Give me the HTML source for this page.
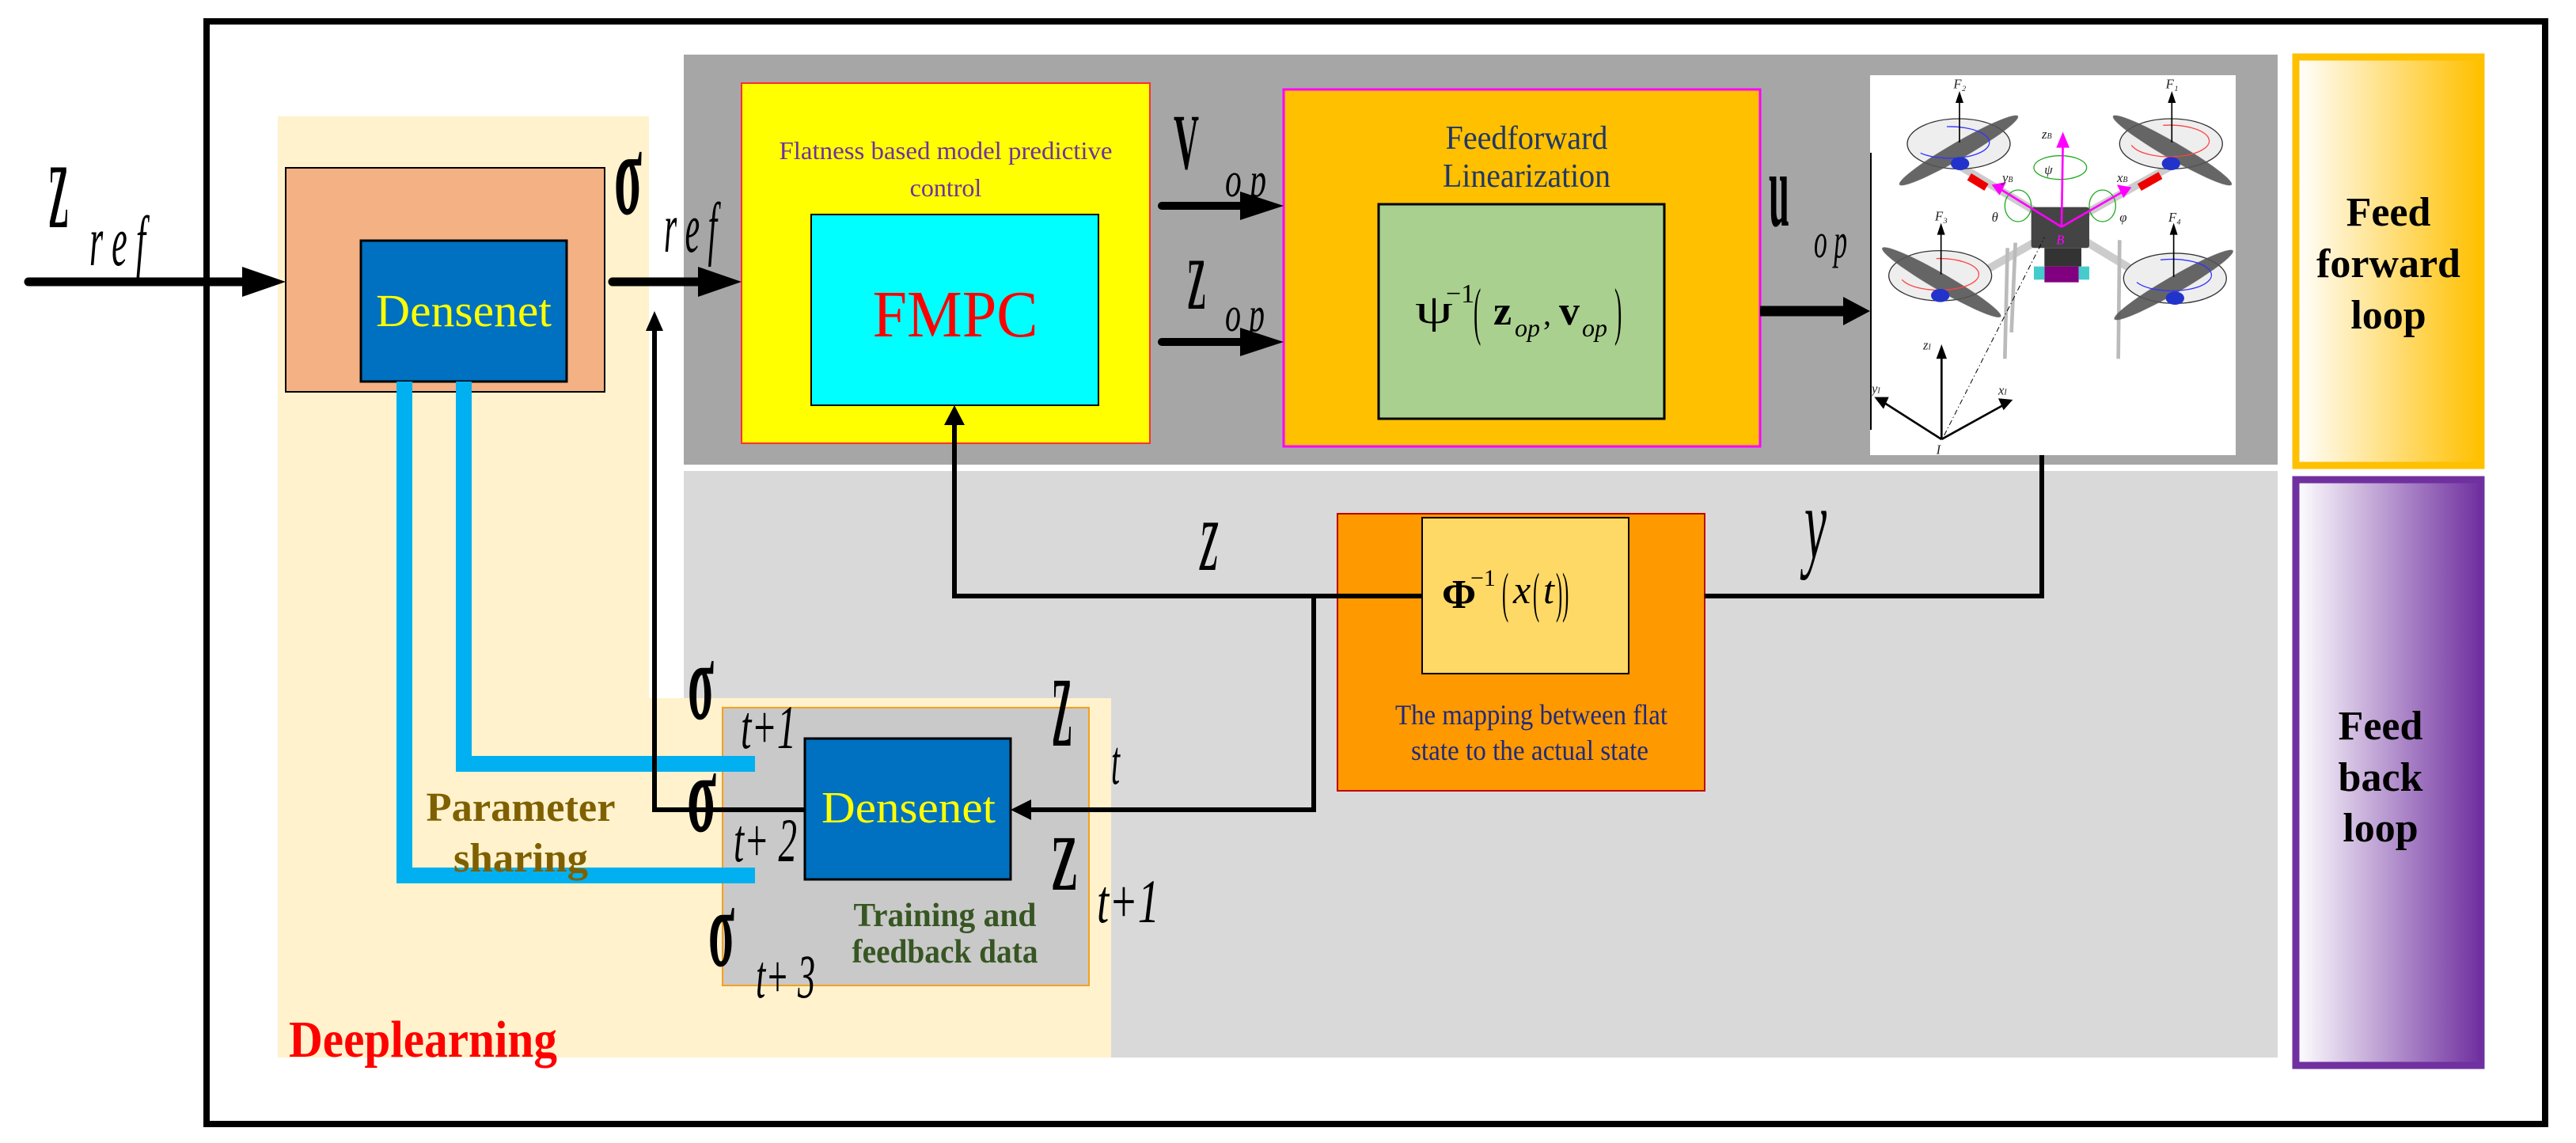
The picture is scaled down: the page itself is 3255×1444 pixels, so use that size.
<!DOCTYPE html>
<html><head><meta charset="utf-8"><style>
html,body{margin:0;padding:0;background:#fff;}
svg{display:block;}
text{font-family:"Liberation Serif",serif;}
</style></head><body>
<svg width="3255" height="1444" viewBox="0 0 3255 1444" xmlns="http://www.w3.org/2000/svg">
<defs>
<linearGradient id="gff" x1="0" x2="1" y1="0" y2="0"><stop offset="0" stop-color="#fff"/><stop offset="1" stop-color="#ffc000"/></linearGradient>
<linearGradient id="gfb" x1="0" x2="1" y1="0" y2="0"><stop offset="0" stop-color="#fff"/><stop offset="1" stop-color="#7030a0"/></linearGradient>
</defs>
<rect width="3255" height="1444" fill="#fff"/>
<!-- outer border -->
<rect x="261" y="27" width="2955" height="1393" fill="none" stroke="#000" stroke-width="8"/>
<!-- gray regions -->
<rect x="864" y="69" width="2014" height="518" fill="#a6a6a6"/>
<rect x="864" y="595" width="2014" height="741" fill="#d9d9d9"/>
<!-- beige deep learning region -->
<rect x="351" y="147" width="469" height="1189" fill="#fff2cc"/>
<rect x="820" y="882" width="584" height="454" fill="#fff2cc"/>
<!-- salmon + densenet top -->
<rect x="361" y="212" width="403" height="283" fill="#f4b183" stroke="#000" stroke-width="2"/>
<rect x="456" y="304" width="260" height="178" fill="#0070c0" stroke="#000" stroke-width="3"/>
<text x="586" y="412" font-size="58" fill="#ffff00" text-anchor="middle" textLength="222" lengthAdjust="spacingAndGlyphs">Densenet</text>
<!-- FMPC -->
<rect x="937" y="105" width="516" height="455" fill="#ffff00" stroke="#ff3030" stroke-width="2"/>
<text x="1195" y="201" font-size="32" fill="#7030a0" text-anchor="middle" textLength="421" lengthAdjust="spacingAndGlyphs">Flatness based model predictive</text>
<text x="1195" y="248" font-size="32" fill="#7030a0" text-anchor="middle">control</text>
<rect x="1025" y="271" width="363" height="241" fill="#00ffff" stroke="#000" stroke-width="2"/>
<text x="1207" y="425" font-size="84" fill="#ff0000" text-anchor="middle" textLength="209" lengthAdjust="spacingAndGlyphs">FMPC</text>
<!-- Feedforward linearization -->
<rect x="1622" y="113" width="602" height="451" fill="#ffc000" stroke="#ff00ff" stroke-width="3"/>
<text x="1929" y="188" font-size="42" fill="#203864" text-anchor="middle" textLength="205" lengthAdjust="spacingAndGlyphs">Feedforward</text>
<text x="1929" y="236" font-size="42" fill="#203864" text-anchor="middle" textLength="212" lengthAdjust="spacingAndGlyphs">Linearization</text>
<rect x="1742" y="258" width="361" height="271" fill="#a9d08e" stroke="#000" stroke-width="3"/>
<text x="1788" y="408" font-size="52" fill="#000" textLength="48" lengthAdjust="spacingAndGlyphs">ψ</text>
<text x="1827" y="382" font-size="34" fill="#000">−1</text>
<text x="1862" y="420" font-size="80" fill="#000" transform="translate(1862,0) scale(0.35,1) translate(-1862,0)">(</text>
<text x="1887" y="410" font-size="52" font-weight="bold" fill="#000">z</text>
<text x="1914" y="425" font-size="32" font-style="italic" fill="#000">op</text>
<text x="1950" y="410" font-size="40" fill="#000">,</text>
<text x="1970" y="410" font-size="52" font-weight="bold" fill="#000">v</text>
<text x="1999" y="425" font-size="32" font-style="italic" fill="#000">op</text>
<text x="2040" y="420" font-size="80" fill="#000" transform="translate(2040,0) scale(0.35,1) translate(-2040,0)">)</text>
<!-- drone image -->
<rect x="2363" y="95" width="462" height="480" fill="#fff"/>
<line x1="2364" y1="193" x2="2364" y2="543" stroke="#000" stroke-width="2"/>
<g transform="translate(2350,80) scale(0.3333)">
  <g stroke="#ccc" stroke-width="30" stroke-linecap="round">
    <line x1="765" y1="620" x2="380" y2="390"/><line x1="765" y1="620" x2="1180" y2="390"/>
    <line x1="765" y1="620" x2="310" y2="880"/><line x1="765" y1="620" x2="1195" y2="880"/>
  </g>
  <line x1="415" y1="430" x2="480" y2="470" stroke="#e00" stroke-width="30"/>
  <line x1="1060" y1="470" x2="1140" y2="425" stroke="#e00" stroke-width="30"/>
  <g stroke="#bbb" stroke-width="14"><line x1="560" y1="700" x2="550" y2="1120"/><line x1="985" y1="670" x2="980" y2="1120"/><line x1="590" y1="680" x2="575" y2="1020"/></g>
  <g fill="#eee" stroke="#333" stroke-width="4">
    <ellipse cx="375" cy="305" rx="195" ry="95"/><ellipse cx="1180" cy="305" rx="195" ry="95"/>
    <ellipse cx="305" cy="805" rx="195" ry="95"/><ellipse cx="1195" cy="815" rx="195" ry="95"/>
  </g>
  <g fill="#555" opacity="0.9">
    <ellipse cx="375" cy="330" rx="260" ry="32" transform="rotate(-30 375 330)"/>
    <ellipse cx="1185" cy="330" rx="260" ry="32" transform="rotate(30 1185 330)"/>
    <ellipse cx="310" cy="830" rx="260" ry="32" transform="rotate(30 310 830)"/>
    <ellipse cx="1190" cy="840" rx="260" ry="32" transform="rotate(-30 1190 840)"/>
  </g>
  <g fill="none" stroke-width="4">
    <path d="M230 340 A150 60 0 1 0 330 240" stroke="#33f"/>
    <path d="M1030 310 A150 60 0 1 0 1150 235" stroke="#f44"/>
    <path d="M160 820 A150 60 0 1 0 290 740" stroke="#f44"/>
    <path d="M1050 830 A150 60 0 1 0 1140 745" stroke="#33f"/>
    <ellipse cx="760" cy="395" rx="100" ry="45" stroke="#2a2"/>
    <ellipse cx="600" cy="540" rx="50" ry="60" stroke="#2a2"/>
    <ellipse cx="920" cy="540" rx="50" ry="60" stroke="#2a2"/>
  </g>
  <g fill="#2233cc"><ellipse cx="380" cy="380" rx="35" ry="25"/><ellipse cx="1180" cy="380" rx="35" ry="25"/><ellipse cx="305" cy="880" rx="35" ry="25"/><ellipse cx="1195" cy="890" rx="35" ry="25"/></g>
  <rect x="650" y="545" width="220" height="155" fill="#444" rx="10"/>
  <rect x="700" y="700" width="140" height="70" fill="#333"/>
  <rect x="700" y="770" width="130" height="60" fill="#800080"/>
  <rect x="660" y="770" width="40" height="50" fill="#4cc"/><rect x="830" y="770" width="40" height="50" fill="#4cc"/>
  <g stroke="#f0f" stroke-width="8" fill="#f0f">
    <line x1="765" y1="620" x2="770" y2="300"/><polygon points="745,320 795,320 770,260" stroke="none"/>
    <line x1="765" y1="620" x2="530" y2="475"/><polygon points="500,460 555,450 530,500" stroke="none"/>
    <line x1="765" y1="620" x2="1000" y2="485"/><polygon points="1030,470 975,460 1000,510" stroke="none"/>
  </g>
  <g stroke="#000" stroke-width="5" fill="#000">
    <line x1="378" y1="300" x2="378" y2="140"/><polygon points="363,150 393,150 378,105" stroke="none"/>
    <line x1="1183" y1="300" x2="1183" y2="140"/><polygon points="1168,150 1198,150 1183,105" stroke="none"/>
    <line x1="308" y1="800" x2="308" y2="640"/><polygon points="293,650 323,650 308,605" stroke="none"/>
    <line x1="1190" y1="810" x2="1190" y2="640"/><polygon points="1175,650 1205,650 1190,605" stroke="none"/>
  </g>
  <g stroke="#000" stroke-width="8" fill="#000">
    <line x1="310" y1="1425" x2="310" y2="1110"/><polygon points="290,1120 330,1120 310,1065" stroke="none"/>
    <line x1="310" y1="1425" x2="90" y2="1285"/><polygon points="55,1265 110,1265 90,1310" stroke="none"/>
    <line x1="310" y1="1425" x2="545" y2="1295"/><polygon points="580,1275 525,1270 545,1315" stroke="none"/>
  </g>
  <line x1="320" y1="1410" x2="700" y2="660" stroke="#000" stroke-width="3" stroke-dasharray="20,10,4,10"/>
  <g font-family="Liberation Serif" font-style="italic" font-size="50" fill="#222">
    <text x="355" y="95">F₂</text><text x="1160" y="95">F₁</text><text x="285" y="595">F₃</text><text x="1170" y="600">F₄</text>
    <text x="690" y="285">z<tspan font-size="30">B</tspan></text><text x="700" y="420">ψ</text>
    <text x="540" y="450">y<tspan font-size="30">B</tspan></text><text x="975" y="450">x<tspan font-size="30">B</tspan></text>
    <text x="500" y="600">θ</text><text x="985" y="600">φ</text>
    <text x="240" y="1085">z<tspan font-size="30">I</tspan></text><text x="45" y="1250">y<tspan font-size="30">I</tspan></text><text x="525" y="1255">x<tspan font-size="30">I</tspan></text>
    <text x="290" y="1480">I</text><text x="745" y="685" fill="#f0f">B</text>
  </g>
</g>
<!-- feed loops -->
<rect x="2901" y="72" width="234" height="516" fill="url(#gff)" stroke="#ffc000" stroke-width="9"/>
<rect x="2901" y="606" width="234" height="740" fill="url(#gfb)" stroke="#7030a0" stroke-width="9"/>
<g font-weight="bold" font-size="52" fill="#000" text-anchor="middle">
<text x="3018" y="285">Feed</text><text x="3018" y="350">forward</text><text x="3018" y="415">loop</text>
<text x="3008" y="934">Feed</text><text x="3008" y="999">back</text><text x="3008" y="1063">loop</text>
</g>
<!-- mapping box -->
<rect x="1690" y="649" width="464" height="350" fill="#ff9900" stroke="#c00000" stroke-width="2"/>
<rect x="1797" y="654" width="261" height="197" fill="#ffd966" stroke="#000" stroke-width="2"/>
<text x="1822" y="768" font-size="52" font-weight="bold" fill="#000">Φ</text>
<text x="1858" y="740" font-size="30" fill="#000">−1</text>
<text x="1898" y="772" font-size="70" fill="#000" transform="translate(1898,0) scale(0.35,1) translate(-1898,0)">(</text>
<text x="1912" y="762" font-size="50" font-style="italic" fill="#000">x</text>
<text x="1937" y="772" font-size="70" fill="#000" transform="translate(1937,0) scale(0.35,1) translate(-1937,0)">(</text>
<text x="1950" y="762" font-size="50" font-style="italic" fill="#000">t</text>
<text x="1966" y="772" font-size="70" fill="#000" transform="translate(1966,0) scale(0.35,1) translate(-1966,0)">))</text>
<text x="1935" y="915" font-size="36" fill="#1f2a7a" text-anchor="middle" textLength="344" lengthAdjust="spacingAndGlyphs">The mapping between flat</text>
<text x="1933" y="960" font-size="36" fill="#1f2a7a" text-anchor="middle" textLength="300" lengthAdjust="spacingAndGlyphs">state to the actual state</text>
<!-- bottom training box -->
<rect x="913" y="894" width="463" height="351" fill="#c9c9c9" stroke="#f4a020" stroke-width="2"/>
<rect x="1017" y="933" width="260" height="178" fill="#0070c0" stroke="#000" stroke-width="3"/>
<text x="1148" y="1039" font-size="56" fill="#ffff00" text-anchor="middle" textLength="220" lengthAdjust="spacingAndGlyphs">Densenet</text>
<text x="1194" y="1170" font-size="42" font-weight="bold" fill="#375623" text-anchor="middle" textLength="231" lengthAdjust="spacingAndGlyphs">Training  and</text>
<text x="1194" y="1216" font-size="42" font-weight="bold" fill="#375623" text-anchor="middle" textLength="235" lengthAdjust="spacingAndGlyphs">feedback data</text>
<!-- blue parameter sharing lines -->
<path d="M511 482 V1106 H954" fill="none" stroke="#00b0f0" stroke-width="20"/>
<path d="M586 482 V965 H954" fill="none" stroke="#00b0f0" stroke-width="20"/>
<text x="658" y="1037" font-size="52" font-weight="bold" fill="#7f6000" text-anchor="middle" textLength="239" lengthAdjust="spacingAndGlyphs">Parameter</text>
<text x="658" y="1101" font-size="52" font-weight="bold" fill="#7f6000" text-anchor="middle" textLength="170" lengthAdjust="spacingAndGlyphs">sharing</text>
<text x="365" y="1335" font-size="66" font-weight="bold" fill="#ff0000" textLength="339" lengthAdjust="spacingAndGlyphs">Deeplearning</text>
<!-- connectors -->
<g stroke="#000" fill="none">
  <line x1="36" y1="356" x2="315" y2="356" stroke-width="11" stroke-linecap="round"/>
  <line x1="774" y1="356" x2="890" y2="356" stroke-width="11" stroke-linecap="round"/>
  <line x1="1468" y1="260" x2="1575" y2="260" stroke-width="10" stroke-linecap="round"/>
  <line x1="1468" y1="432" x2="1575" y2="432" stroke-width="10" stroke-linecap="round"/>
  <line x1="2224" y1="393" x2="2335" y2="393" stroke-width="13"/>
  <polyline points="2580,575 2580,753 2154,753" stroke-width="6"/>
  <line x1="1690" y1="753" x2="1797" y2="753" stroke-width="6"/>
  <polyline points="1690,753 1206,753 1206,530" stroke-width="6"/>
  <polyline points="1660,753 1660,1023 1295,1023" stroke-width="6"/>
  <polyline points="1017,1023 827,1023 827,412" stroke-width="6"/>
</g>
<g fill="#000">
  <polygon points="306,337 361,356 306,375"/>
  <polygon points="882,337 937,356 882,375"/>
  <polygon points="1567,242 1622,260 1567,278"/>
  <polygon points="1567,414 1622,432 1567,450"/>
  <polygon points="2329,375 2363,393 2329,411"/>
  <polygon points="1193,537 1206,512 1219,537"/>
  <polygon points="1303,1010 1277,1023 1303,1036"/>
  <polygon points="816,418 827,393 838,418"/>
</g>
<!-- math labels -->
<g fill="#000">
  <text x="61" y="287" font-size="115" font-weight="bold" textLength="26" lengthAdjust="spacingAndGlyphs">Z</text>
  <text x="113" y="335" font-size="90" font-style="italic" textLength="71" lengthAdjust="spacingAndGlyphs">r e f</text>
  <text x="776" y="270" font-size="150" font-weight="bold" textLength="35" lengthAdjust="spacingAndGlyphs">σ</text>
  <text x="839" y="318" font-size="90" font-style="italic" textLength="67" lengthAdjust="spacingAndGlyphs">r e f</text>
  <text x="1483" y="213" font-size="100" font-weight="bold" textLength="32" lengthAdjust="spacingAndGlyphs">V</text>
  <text x="1548" y="248" font-size="62" font-style="italic" textLength="52" lengthAdjust="spacingAndGlyphs">o p</text>
  <text x="1500" y="390" font-size="92" font-weight="bold" textLength="24" lengthAdjust="spacingAndGlyphs">Z</text>
  <text x="1548" y="418" font-size="62" font-style="italic" textLength="50" lengthAdjust="spacingAndGlyphs">o p</text>
  <text x="2235" y="285" font-size="135" font-weight="bold" textLength="26" lengthAdjust="spacingAndGlyphs">u</text>
  <text x="2292" y="325" font-size="62" font-style="italic" textLength="42" lengthAdjust="spacingAndGlyphs">o p</text>
  <text x="1516" y="720" font-size="130" font-style="italic" textLength="24" lengthAdjust="spacingAndGlyphs">z</text>
  <text x="2280" y="705" font-size="130" font-style="italic" textLength="28" lengthAdjust="spacingAndGlyphs">y</text>
  <text x="869" y="908" font-size="140" font-weight="bold" textLength="33" lengthAdjust="spacingAndGlyphs">σ</text>
  <text x="936" y="945" font-size="78" font-style="italic" textLength="70" lengthAdjust="spacingAndGlyphs">t+1</text>
  <text x="1329" y="942" font-size="125" font-weight="bold" textLength="26" lengthAdjust="spacingAndGlyphs">Z</text>
  <text x="1404" y="990" font-size="80" font-style="italic" textLength="11" lengthAdjust="spacingAndGlyphs">t</text>
  <text x="868" y="1050" font-size="140" font-weight="bold" textLength="37" lengthAdjust="spacingAndGlyphs">σ</text>
  <text x="927" y="1088" font-size="78" font-style="italic" textLength="80" lengthAdjust="spacingAndGlyphs">t+ 2</text>
  <text x="1328" y="1124" font-size="100" font-weight="bold" textLength="34" lengthAdjust="spacingAndGlyphs">Z</text>
  <text x="1386" y="1165" font-size="78" font-style="italic" textLength="79" lengthAdjust="spacingAndGlyphs">t+1</text>
  <text x="895" y="1220" font-size="140" font-weight="bold" textLength="33" lengthAdjust="spacingAndGlyphs">σ</text>
  <text x="955" y="1260" font-size="78" font-style="italic" textLength="75" lengthAdjust="spacingAndGlyphs">t+ 3</text>
</g>
</svg>
</body></html>
